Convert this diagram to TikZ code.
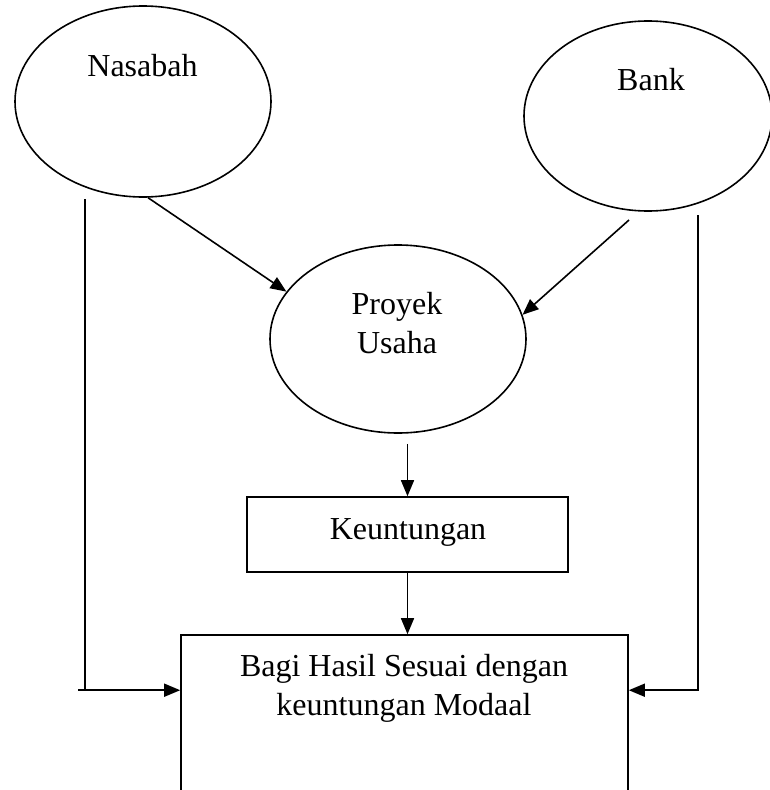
\documentclass[tikz,border=0pt]{standalone}
\usepackage{fontspec}
\setmainfont{Liberation Serif}
\usepackage{tikz}
\usetikzlibrary{
  shapes.geometric,%
  arrows.meta,%
  calc,%
  positioning
}
\tikzset{>={Triangle[length=16pt,width=13pt]}}
\tikzset{oval/.style={draw, ellipse, inner sep=0pt},
  kotak/.style={draw, rectangle, inner sep=0pt},
  tulisan/.style={font=\fontsize{32}{39}\selectfont, align=center, inner sep=0pt, anchor=base}}

\begin{document}
\begin{tikzpicture}[x=1pt, y=-1pt, line width=1.6pt]
        \useasboundingbox (0,0) rectangle (769,790);
        % pihak-pihak
        \node[oval, minimum width=256pt, minimum height=191pt] (nasabah) at (143,101.5) {};
        \node[tulisan] (nasabahT) at (142.5,76) {Nasabah};
        \node[oval, minimum width=248pt, minimum height=190pt] (bank) at (648,116) {};
        \node[tulisan] (bankT) at (651,90) {Bank};
        \node[oval, minimum width=256pt, minimum height=188pt] (proyek) at (398,339) {};
        \node[tulisan] (proyekT) at (397,353) {Proyek\\Usaha};
        % hasil
        \node[kotak, minimum width=321pt, minimum height=75pt] (untung) at (407.5,534.5) {};
        \node[tulisan] (untungT) at (408,539) {Keuntungan};
        \node[kotak, minimum width=447pt, minimum height=180pt] (hasil) at (404.5,725) {};
        \node[tulisan] (hasilT) at (404,715) {Bagi Hasil Sesuai dengan\\keuntungan Modaal};
        \coordinate (nasKiri) at (85,199);
        \coordinate (bankBawah) at (629,220);
        \coordinate (bankKanan) at (698,215);
        \coordinate (hasilKiri) at ([yshift=-56pt]hasil.north west);
        \coordinate (hasilKanan) at ([yshift=-56pt]hasil.north east);
        % panah
        \draw[->] (nasabah.-87) -- (proyek.157);
        \draw[->] (bankBawah) -- (proyek.11);
        \draw[->] ([yshift=-10pt]untung.north |- proyek.south) -- (untung.north);
        \draw[->] (untung.south) -- (untung.south |- hasil.north);
        \draw (nasKiri) -- (nasKiri |- hasilKiri);
        \draw[->] ([xshift=-7pt]nasKiri |- hasilKiri) -- (hasilKiri);
        \draw[->] (bankKanan) |- (hasilKanan);
      \end{tikzpicture}
\end{document}
